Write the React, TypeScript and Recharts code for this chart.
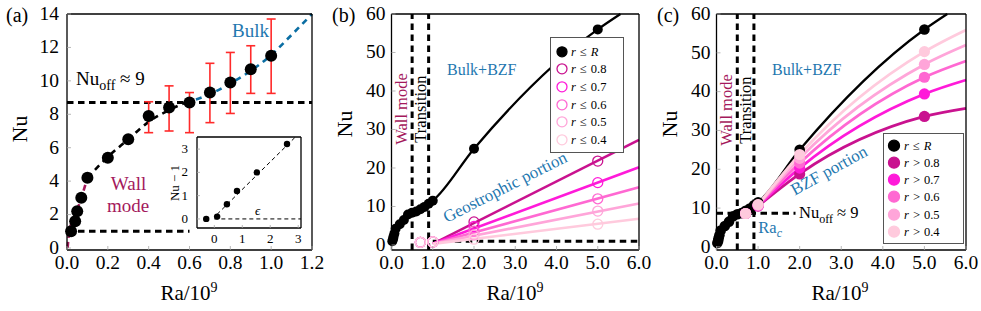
import React from "react";
import { ComposedChart, Line, Scatter, XAxis, YAxis, ErrorBar, Legend } from "recharts";

const FONT = '"Liberation Serif", "DejaVu Serif", serif';
const GRAY = "#a6a6a6";
const BLUE = "#1f78b0";
const WALL = "#a4195c";
const RED = "#ff2a2a";
const FIT_BLUE = "#0b6ea3";

// (a) Nu against Ra/1e9
const raA = [0.02, 0.04, 0.05, 0.07, 0.1, 0.2, 0.3, 0.4, 0.5, 0.6, 0.7, 0.8, 0.9, 1.0];
const nuA = [1.0, 1.6, 2.2, 3.0, 4.2, 5.4, 6.5, 7.9, 8.4, 8.7, 9.3, 9.9, 10.7, 11.5];
const errFrom = 7; // error bars start at Ra = 0.4e9
const errLow = [1.0, 1.4, 1.8, 1.8, 1.85, 1.45, 2.25];
const errHigh = [0.85, 1.3, 0.6, 1.75, 1.8, 1.4, 2.2];
const xTicksA = [0, 0.2, 0.4, 0.6, 0.8, 1.0, 1.2];
const yTicksA = [0, 2, 4, 6, 8, 10, 12, 14];

// dashed branches in (a)
const raWallFit = [0.003, 0.01, 0.03, 0.05, 0.07, 0.1];
const nuWallFit = [0, 0.9, 1.7, 2.3, 3.0, 4.2];
const raMidFit = [0.1, 0.2, 0.3, 0.4, 0.5, 0.58];
const nuMidFit = [4.2, 5.45, 6.5, 7.55, 8.25, 8.7];
const raBulkFit = [0.58, 0.7, 0.8, 0.9, 1.0, 1.1, 1.2];
const nuBulkFit = [8.7, 9.2, 9.85, 10.6, 11.55, 12.75, 14.0];
const nuOff = 8.7;
const raOffLine = [0, 1.2];
const raOneLine = [0, 0.6];

// inset: Nu - 1 against epsilon
const epsIn = [-0.29, 0.1, 0.45, 0.81, 1.52, 2.6];
const nuM1In = [0, 0.1, 0.63, 1.2, 2.0, 3.22];
const epsFit = [0.1, 2.9];
const nuM1Fit = [0.2, 3.52];
const epsZero = [0, 3.1];
const insetTicks = [0, 1, 2, 3];

// (b), (c)
const raHigh = [2.0, 5.0];
const nuHigh = [25, 56];
const raExit = 5.55; // black fit leaves the frame at Nu = 60
const xTicksBC = [0, 1, 2, 3, 4, 5, 6];
const yTicksBC = [0, 10, 20, 30, 40, 50, 60];
const raWall = 0.5;
const raTrans = 0.9;

const rCuts = ["0.8", "0.7", "0.6", "0.5", "0.4"];
const pinks = ["#c9128f", "#ff1ad9", "#ff68d2", "#ffa5d9", "#ffcadd"];

// (b) inner cylinders r <= ...
const raRing = [0.7, 1.0, 2.0, 5.0];
const nuIn08 = [0.7, 0.8, 6.0, 21.8];
const nuIn07 = [0.7, 0.8, 4.8, 16.2];
const nuIn06 = [0.7, 0.8, 3.6, 12.0];
const nuIn05 = [0.7, 0.8, 2.6, 8.8];
const nuIn04 = [0.7, 0.8, 1.5, 5.4];
const raInFit = [1.0, 6.0];
const nuInFitStart = 0.3;
const nuInFitEnd = [27.3, 20.2, 15.0, 10.8, 6.8];
const raBottomLine = [1.0, 6.0];

// (c) outer rings r > ...
const nuOut08 = [8.6, 10.5, 18.8, 33.6];
const nuOut07 = [8.6, 10.6, 20.3, 39.4];
const nuOut06 = [8.6, 10.7, 21.6, 43.7];
const nuOut05 = [8.6, 10.8, 22.8, 47.0];
const nuOut04 = [8.6, 10.9, 23.8, 50.3];
const nuOutAt6 = [35.7, 43.0, 47.9, 52.0, 55.9];
const raOffC = [0, 1.9];

const pts = (xs: number[], ys: number[]) => xs.map((ra, i) => ({ ra, nu: ys[i] }));
const flat = (xs: number[], v: number) => xs.map((ra) => ({ ra, nu: v }));

const blackAll = pts([...raA, ...raHigh], [...nuA, ...nuHigh]);
const blackCurve = [...blackAll, { ra: raExit, nu: 60 }];
const nuInner = [nuIn08, nuIn07, nuIn06, nuIn05, nuIn04];
const nuOuter = [nuOut08, nuOut07, nuOut06, nuOut05, nuOut04];

const f1 = (v: number) => v.toFixed(1);
const f0 = (v: number) => String(v);

const bottomTick = (fmt: (v: number) => string, size: number, gap: number, tl: number) => (p: any) => (
  <g>
    <line x1={p.x} x2={p.x} y1={p.y - gap} y2={p.y - gap - tl} stroke={GRAY} strokeWidth={0.8} />
    <text x={p.x} y={p.y + size * 0.7} textAnchor="middle" fontSize={size} style={{ fontFamily: FONT }} fill="#000">
      {fmt(p.payload.value)}
    </text>
  </g>
);
const leftTick = (fmt: (v: number) => string, size: number, gap: number, tl: number) => (p: any) => (
  <g>
    <line x1={p.x + gap} x2={p.x + gap + tl} y1={p.y} y2={p.y} stroke={GRAY} strokeWidth={0.8} />
    <text x={p.x} y={p.y + size * 0.3} textAnchor="end" fontSize={size} style={{ fontFamily: FONT }} fill="#000">
      {fmt(p.payload.value)}
    </text>
  </g>
);
const topTick = (tl: number) => (p: any) => (
  <line x1={p.x} x2={p.x} y1={p.y} y2={p.y + tl} stroke={GRAY} strokeWidth={0.8} />
);
const rightTick = (tl: number) => (p: any) => (
  <line x1={p.x} x2={p.x - tl} y1={p.y} y2={p.y} stroke={GRAY} strokeWidth={0.8} />
);

type FrameOpts = {
  xDom: [number, number];
  yDom: [number, number];
  xTicks: number[];
  yTicks: number[];
  xFmt: (v: number) => string;
  yFmt: (v: number) => string;
  size: number;
  yWidth: number;
  xHeight: number;
  xGap: number;
  yGap: number;
  tl: number;
  xKey: string;
};

function frame(o: FrameOpts) {
  const ax = { stroke: "#000", strokeWidth: 1.3 };
  return [
    <XAxis key="xb" dataKey={o.xKey} type="number" domain={o.xDom} ticks={o.xTicks} interval={0}
      height={o.xHeight} tickSize={0} tickMargin={o.xGap} axisLine={ax}
      tick={bottomTick(o.xFmt, o.size, o.xGap, o.tl)} />,
    <XAxis key="xt" xAxisId="top" orientation="top" dataKey={o.xKey} type="number" domain={o.xDom}
      ticks={o.xTicks} interval={0} height={1} tickSize={0} tickMargin={0} axisLine={ax} tick={topTick(o.tl)} />,
    <YAxis key="yl" type="number" domain={o.yDom} ticks={o.yTicks} interval={0} width={o.yWidth}
      tickSize={0} tickMargin={o.yGap} axisLine={ax} tick={leftTick(o.yFmt, o.size, o.yGap, o.tl)} />,
    <YAxis key="yr" yAxisId="right" orientation="right" type="number" domain={o.yDom} ticks={o.yTicks}
      interval={0} width={1} tickSize={0} tickMargin={0} axisLine={ax} tick={rightTick(o.tl)} />,
  ];
}

const dot = (r: number, fill: string, stroke = "none", sw = 0) => (p: any) => (
  <circle cx={p.cx} cy={p.cy} r={r} fill={fill} stroke={stroke} strokeWidth={sw} />
);

const dashed = { stroke: "#000", strokeWidth: 3, strokeDasharray: "6.5 4.5" };

function PanelA() {
  const early = pts(raA.slice(0, errFrom), nuA.slice(0, errFrom));
  const withErr = raA.slice(errFrom).map((ra, i) => ({
    ra,
    nu: nuA[errFrom + i],
    err: [errLow[i], errHigh[i]],
  }));
  return (
    <ComposedChart width={330} height={311} margin={{ top: 13, right: 17, bottom: 31, left: 27 }}>
      {frame({
        xDom: [0, 1.2], yDom: [-0.12, 14], xTicks: xTicksA, yTicks: yTicksA, xFmt: f1, yFmt: f0,
        size: 19.5, yWidth: 40, xHeight: 30, xGap: 5, yGap: 8, tl: 4, xKey: "ra",
      })}
      <Line data={pts(raOffLine, [nuOff, nuOff])} dataKey="nu" {...dashed} dot={false} activeDot={false} isAnimationActive={false} />
      <Line data={flat(raOneLine, 1)} dataKey="nu" {...dashed} dot={false} activeDot={false} isAnimationActive={false} />
      <Line data={pts(raWallFit, nuWallFit)} dataKey="nu" type="monotone" stroke={WALL} strokeWidth={2.6}
        strokeDasharray="6 4" dot={false} activeDot={false} isAnimationActive={false} />
      <Line data={pts(raMidFit, nuMidFit)} dataKey="nu" type="monotone" stroke="#000" strokeWidth={2.6}
        strokeDasharray="6 5" dot={false} activeDot={false} isAnimationActive={false} />
      <Line data={pts(raBulkFit, nuBulkFit)} dataKey="nu" type="monotone" stroke={FIT_BLUE} strokeWidth={2.6}
        strokeDasharray="6 5" dot={false} activeDot={false} isAnimationActive={false} />
      <Scatter data={early} dataKey="nu" shape={dot(6, "#000")} isAnimationActive={false} />
      <Scatter data={withErr} dataKey="nu" shape={dot(6, "#000")} isAnimationActive={false}>
        <ErrorBar dataKey="err" direction="y" width={4.5} stroke={RED} strokeWidth={1.6} />
      </Scatter>
    </ComposedChart>
  );
}

function Inset() {
  return (
    <ComposedChart width={160} height={120} margin={{ top: 6, right: 8, bottom: 2, left: 17 }}>
      {frame({
        xDom: [-0.62, 3.1], yDom: [-0.39, 3.52], xTicks: insetTicks, yTicks: insetTicks, xFmt: f0, yFmt: f0,
        size: 13, yWidth: 30, xHeight: 20, xGap: 6, yGap: 9, tl: 3, xKey: "eps",
      })}
      <Line data={epsZero.map((eps) => ({ eps, v: 0 }))} dataKey="v" stroke="#000" strokeWidth={1}
        strokeDasharray="4 3" dot={false} activeDot={false} isAnimationActive={false} />
      <Line data={epsFit.map((eps, i) => ({ eps, v: nuM1Fit[i] }))} dataKey="v" stroke="#000" strokeWidth={1}
        strokeDasharray="4 3" dot={false} activeDot={false} isAnimationActive={false} />
      <Scatter data={epsIn.map((eps, i) => ({ eps, v: nuM1In[i] }))} dataKey="v" shape={dot(3.2, "#000")}
        isAnimationActive={false} />
    </ComposedChart>
  );
}

type Row = { label: string; fill: string; stroke: string };

function LegendBox(props: { rows: Row[]; op: string; w: number; h: number; pad: number; step: number; mx: number; tx: number; r: number }) {
  const { rows, op, w, h, pad, step, mx, tx, r } = props;
  return (
    <div style={{ width: w, height: h, boxSizing: "border-box", border: "1px solid #555", background: "#fff",
      paddingTop: pad, fontFamily: FONT }}>
      {rows.map((row, i) => (
        <div key={i} style={{ position: "relative", height: step }}>
          <svg width={w - 2} height={step} style={{ position: "absolute", left: 0, top: 0 }}>
            <circle cx={mx} cy={step / 2} r={r} fill={row.fill} stroke={row.stroke} strokeWidth={1.3} />
            <text x={tx} y={step / 2 + 4.2} fontSize={12.5} style={{ fontFamily: FONT }} fill="#000">
              <tspan fontStyle="italic">r</tspan>
              <tspan dx={4}>{i === 0 ? "≤" : op}</tspan>
              <tspan dx={4} fontStyle={i === 0 ? "italic" : "normal"}>{row.label}</tspan>
            </text>
          </svg>
        </div>
      ))}
    </div>
  );
}

function PanelB() {
  const rows: Row[] = [{ label: "R", fill: "#000", stroke: "#000" }, ...rCuts.map((c, i) => ({ label: c, fill: "none", stroke: pinks[i] }))];
  return (
    <ComposedChart width={330} height={311} margin={{ top: 13, right: 20, bottom: 31, left: 21.5 }}>
      {frame({
        xDom: [0, 6], yDom: [-1.3, 60], xTicks: xTicksBC, yTicks: yTicksBC, xFmt: f1, yFmt: f0,
        size: 19.5, yWidth: 40, xHeight: 30, xGap: 5, yGap: 6, tl: 4, xKey: "ra",
      })}
      <Line data={[{ ra: raWall, nu: -1.3 }, { ra: raWall, nu: 60 }]} dataKey="nu" {...dashed}
        dot={false} activeDot={false} isAnimationActive={false} />
      <Line data={[{ ra: raTrans, nu: -1.3 }, { ra: raTrans, nu: 60 }]} dataKey="nu" {...dashed}
        dot={false} activeDot={false} isAnimationActive={false} />
      <Line data={flat(raBottomLine, 1)} dataKey="nu" {...dashed} dot={false} activeDot={false} isAnimationActive={false} />
      <Line data={blackCurve} dataKey="nu" type="monotone" stroke="#000" strokeWidth={2.3}
        dot={false} activeDot={false} isAnimationActive={false} />
      <Scatter data={blackAll} dataKey="nu" shape={dot(5, "#000")} isAnimationActive={false} />
      {nuInFitEnd.map((end, i) => (
        <Line key={"l" + i} data={pts(raInFit, [nuInFitStart, end])} dataKey="nu" stroke={pinks[i]} strokeWidth={2.6}
          dot={false} activeDot={false} isAnimationActive={false} />
      ))}
      {nuInner.map((ys, i) => (
        <Scatter key={"s" + i} name={"r<=" + rCuts[i]} data={pts(raRing, ys)} dataKey="nu"
          shape={dot(5, "none", pinks[i], 1.3)} isAnimationActive={false} />
      ))}
      <Legend layout="vertical" align="center" verticalAlign="middle"
        wrapperStyle={{ left: 220, top: 37, width: 74, height: 116 }}
        content={() => <LegendBox rows={rows} op="≤" w={74} h={116} pad={4.5} step={17.7} mx={11} tx={20} r={5} />} />
    </ComposedChart>
  );
}

function PanelC() {
  const rows: Row[] = [{ label: "R", fill: "#000", stroke: "#000" }, ...rCuts.map((c, i) => ({ label: c, fill: pinks[i], stroke: pinks[i] }))];
  return (
    <ComposedChart width={326} height={311} margin={{ top: 13, right: 14, bottom: 31, left: 21.5 }}>
      {frame({
        xDom: [0, 6], yDom: [-0.8, 60], xTicks: xTicksBC, yTicks: yTicksBC, xFmt: f1, yFmt: f0,
        size: 19.5, yWidth: 40, xHeight: 30, xGap: 5, yGap: 6, tl: 4, xKey: "ra",
      })}
      <Line data={[{ ra: raWall, nu: -0.8 }, { ra: raWall, nu: 60 }]} dataKey="nu" {...dashed}
        dot={false} activeDot={false} isAnimationActive={false} />
      <Line data={[{ ra: raTrans, nu: -0.8 }, { ra: raTrans, nu: 60 }]} dataKey="nu" {...dashed}
        dot={false} activeDot={false} isAnimationActive={false} />
      <Line data={flat(raOffC, nuOff)} dataKey="nu" {...dashed} dot={false} activeDot={false} isAnimationActive={false} />
      <Line data={blackCurve} dataKey="nu" type="monotone" stroke="#000" strokeWidth={2.3}
        dot={false} activeDot={false} isAnimationActive={false} />
      <Scatter data={blackAll} dataKey="nu" shape={dot(5.3, "#000")} isAnimationActive={false} />
      {nuOuter.map((ys, i) => (
        <Line key={"l" + i} data={pts([...raRing.slice(1), 6.0], [...ys.slice(1), nuOutAt6[i]])} dataKey="nu"
          type="monotone" stroke={pinks[i]} strokeWidth={2.8} dot={false} activeDot={false} isAnimationActive={false} />
      ))}
      {nuOuter.map((ys, i) => (
        <Scatter key={"s" + i} name={"r>" + rCuts[i]} data={pts(raRing, ys)} dataKey="nu"
          shape={dot(5.6, pinks[i])} isAnimationActive={false} />
      ))}
      <Legend layout="vertical" align="center" verticalAlign="middle"
        wrapperStyle={{ left: 228, top: 132.5, width: 81, height: 111 }}
        content={() => <LegendBox rows={rows} op=">" w={81} h={111} pad={3} step={17.3} mx={10} tx={20} r={5.5} />} />
    </ComposedChart>
  );
}

function RaLabel({ x }: { x: number }) {
  return (
    <text x={x} y={300} textAnchor="middle" fontSize={21}>
      <tspan>Ra/10</tspan>
      <tspan dy={-8} fontSize={14}>9</tspan>
    </text>
  );
}

function NuLabel({ x, y }: { x: number; y: number }) {
  return (
    <text transform={`translate(${x},${y}) rotate(-90)`} textAnchor="middle" fontSize={22}>Nu</text>
  );
}

function Overlay() {
  return (
    <svg width={981} height={311} style={{ position: "absolute", left: 0, top: 0, pointerEvents: "none", fontFamily: FONT }}>
      {/* (a) */}
      <text x={6} y={22} fontSize={20}>(a)</text>
      <NuLabel x={27} y={129} />
      <RaLabel x={189} />
      <text x={232} y={36.5} fontSize={19} fill={BLUE}>Bulk</text>
      <text x={76} y={85} fontSize={19}>
        <tspan>Nu</tspan>
        <tspan dy={5} fontSize={14}>off</tspan>
        <tspan dy={-5}>{"  ≈  9"}</tspan>
      </text>
      <text x={128.5} y={190} fontSize={19} fill={WALL} textAnchor="middle">Wall</text>
      <text x={128} y={211.5} fontSize={19} fill={WALL} textAnchor="middle">mode</text>
      <text transform="translate(179,183) rotate(-90)" textAnchor="middle" fontSize={13}>Nu − 1</text>
      <text x={255} y={215} fontSize={13} fontStyle="italic">ϵ</text>

      {/* (b) */}
      <text x={332} y={22} fontSize={20}>(b)</text>
      <NuLabel x={352} y={124} />
      <RaLabel x={515} />
      <text transform="translate(406.5,109) rotate(-90)" textAnchor="middle" fontSize={16.5} fill={WALL}>Wall mode</text>
      <text transform="translate(425.5,109) rotate(-90)" textAnchor="middle" fontSize={16.5}>Transition</text>
      <text x={447} y={75} fontSize={16} fill={BLUE}>Bulk+BZF</text>
      <text transform="translate(507.5,192) rotate(-27)" textAnchor="middle" fontSize={17} fill={BLUE}>Geostrophic portion</text>

      {/* (c) */}
      <text x={657} y={22} fontSize={20}>(c)</text>
      <NuLabel x={677} y={124} />
      <RaLabel x={840} />
      <text transform="translate(731.5,110) rotate(-90)" textAnchor="middle" fontSize={16.5} fill={WALL}>Wall mode</text>
      <text transform="translate(750.5,110) rotate(-90)" textAnchor="middle" fontSize={16.5}>Transition</text>
      <text x={772} y={75} fontSize={16} fill={BLUE}>Bulk+BZF</text>
      <text transform="translate(831.7,175.3) rotate(-29)" textAnchor="middle" fontSize={17} fill={BLUE}>BZF portion</text>
      <text x={799} y={218.3} fontSize={16.5}>
        <tspan>Nu</tspan>
        <tspan dy={4.5} fontSize={12}>off</tspan>
        <tspan dy={-4.5}>{"  ≈  9"}</tspan>
      </text>
      <text x={758.3} y={233.3} fontSize={16.5} fill={BLUE}>
        <tspan>Ra</tspan>
        <tspan dy={4} fontSize={12} fontStyle="italic">c</tspan>
      </text>
    </svg>
  );
}

export default function App() {
  return (
    <div style={{ position: "absolute", left: 0, top: 0, width: 981, height: 311, background: "#fff", fontFamily: FONT }}>
      <div style={{ position: "absolute", left: 0, top: 0 }}>
        <PanelA />
      </div>
      <div style={{ position: "absolute", left: 150, top: 130 }}>
        <Inset />
      </div>
      <div style={{ position: "absolute", left: 330, top: 0 }}>
        <PanelB />
      </div>
      <div style={{ position: "absolute", left: 655, top: 0 }}>
        <PanelC />
      </div>
      <Overlay />
    </div>
  );
}
